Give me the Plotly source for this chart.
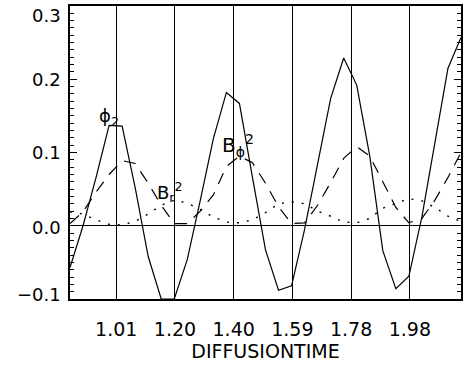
import plotly.graph_objects as go

# ---- data ----
time = [0.860, 0.903, 0.946, 0.989, 1.032, 1.075, 1.118, 1.161, 1.204, 1.247,
        1.290, 1.333, 1.376, 1.419, 1.462, 1.505, 1.548, 1.591, 1.634, 1.677,
        1.720, 1.763, 1.806, 1.849, 1.892, 1.935, 1.978, 2.021, 2.064, 2.107, 2.150]

phi2 = [-0.057, 0.000, 0.066, 0.137, 0.136, 0.052, -0.042, -0.100, -0.100, -0.046,
        0.035, 0.119, 0.182, 0.167, 0.066, -0.033, -0.088, -0.082, -0.005, 0.085,
        0.174, 0.229, 0.192, 0.095, -0.034, -0.086, -0.069, 0.012, 0.115, 0.215, 0.257]

bphi2 = [0.003, 0.019, 0.046, 0.070, 0.089, 0.085, 0.058, 0.028, 0.003, 0.003,
         0.020, 0.042, 0.081, 0.095, 0.086, 0.058, 0.026, 0.003, 0.004, 0.028,
         0.059, 0.092, 0.108, 0.095, 0.060, 0.025, 0.004, 0.010, 0.035, 0.066, 0.100]

br2 = [0.019, 0.016, 0.008, 0.002, 0.001, 0.006, 0.016, 0.028, 0.035, 0.031,
       0.022, 0.012, 0.005, 0.004, 0.008, 0.018, 0.030, 0.033, 0.030, 0.020,
       0.013, 0.005, 0.004, 0.010, 0.024, 0.031, 0.037, 0.034, 0.025, 0.013, 0.006]

x_tick_values = [1.0125, 1.20625, 1.4, 1.59375, 1.7875, 1.98125]
x_tick_labels = ["1.01", "1.20", "1.40", "1.59", "1.78", "1.98"]

y_tick_values = [-0.1, 0.0, 0.1, 0.2, 0.3]
y_tick_labels = ["\u22120.1", "0.0", "0.1", "0.2", "0.3"]

x_title = "DIFFUSIONTIME"
curve_labels = ["\u03d5<sub>2</sub>", "B<sub>\u03d5</sub><sup>2</sup>", "B<sub>r</sub><sup>2</sup>"]

# ---- figure ----
FONT = "DejaVu Sans"
fig = go.Figure()

fig.add_trace(go.Scatter(x=time, y=phi2, mode="lines",
                         line=dict(color="black", width=1.2), showlegend=False))
fig.add_trace(go.Scatter(x=time, y=bphi2, mode="lines",
                         line=dict(color="black", width=1.2, dash="12px,9px"), showlegend=False))
fig.add_trace(go.Scatter(x=time, y=br2, mode="lines",
                         line=dict(color="black", width=1.4, dash="2px,8px"), showlegend=False))

# y tick labels (nudged like the original)
y_nudges = {0.3: -9, 0.2: 0, 0.1: 0, 0.0: -2, -0.1: 5}
annotations = []
for v, lab in zip(y_tick_values, y_tick_labels):
    annotations.append(dict(x=0, xref="paper", y=v, yref="y", text=lab,
                            showarrow=False, xanchor="right", yanchor="middle",
                            xshift=-7, yshift=y_nudges[v],
                            font=dict(family=FONT, size=18, color="black")))

# curve labels
label_pos = [(0.949, 0.149, 18), (1.355, 0.110, 20), (1.140, 0.046, 18)]
for (lx, ly, fs), txt in zip(label_pos, curve_labels):
    annotations.append(dict(x=lx, y=ly, xref="x", yref="y", text=txt, showarrow=False,
                            xanchor="left", yanchor="middle",
                            font=dict(family=FONT, size=fs, color="black")))

fig.update_layout(
    width=472, height=365, autosize=False,
    margin=dict(l=70, r=10.7, t=5.7, b=66.1, pad=0),
    paper_bgcolor="white", plot_bgcolor="white",
    font=dict(family=FONT, color="black"),
    annotations=annotations,
    xaxis=dict(
        range=[0.86, 2.15], tickmode="array", tickvals=x_tick_values, ticktext=x_tick_labels,
        showgrid=True, gridcolor="black", gridwidth=1.2,
        ticks="", showline=True, linecolor="black", linewidth=1.5, mirror=True,
        zeroline=False, tickfont=dict(family=FONT, size=19, color="black"),
        ticklabelstandoff=12,
        title=dict(text=x_title, font=dict(family=FONT, size=19, color="black"), standoff=5),
    ),
    yaxis=dict(
        range=[-0.1, 0.3], tickmode="array", tickvals=y_tick_values, showticklabels=False,
        ticks="inside", ticklen=7, tickwidth=1.2, tickcolor="black",
        minor=dict(dtick=0.01, ticks="inside", ticklen=4, tickwidth=1, tickcolor="black"),
        showline=True, linecolor="black", linewidth=1.5, mirror="ticks",
        showgrid=False, zeroline=True, zerolinecolor="black", zerolinewidth=1.3,
    ),
)

fig.write_html("out.html")
